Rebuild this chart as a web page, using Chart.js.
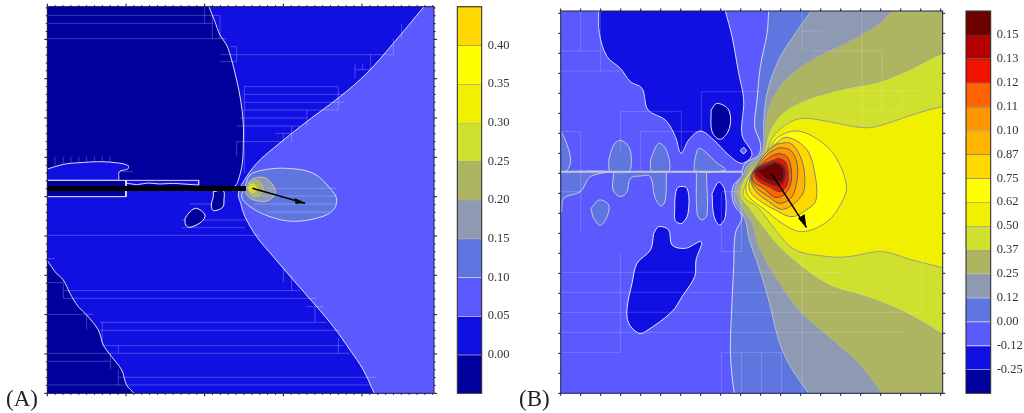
<!DOCTYPE html>
<html>
<head>
<meta charset="utf-8">
<script src="https://cdn.jsdelivr.net/npm/chart.js@4"></script>
<style>
html,body{margin:0;padding:0;background:#fff;overflow:hidden;width:1024px;height:413px}
canvas{position:absolute;display:block;filter:blur(0.35px)}
.tag{position:absolute;font-family:"Liberation Serif",serif;font-size:23px;line-height:26px;color:#222}
</style>
</head>
<body>
<canvas id="mapA" style="left:37px;top:0" width="408" height="405"></canvas>
<canvas id="barA" style="left:450px;top:0" width="74" height="405"></canvas>
<canvas id="mapB" style="left:550px;top:0" width="404" height="405"></canvas>
<canvas id="barB" style="left:958px;top:0" width="66" height="405"></canvas>
<div class="tag" style="left:6px;top:386px">(A)</div>
<div class="tag" style="left:519px;top:386px">(B)</div>
<script>
// ---- colour scale of panel A (band edges and tick values)
const edgesA = [-0.05,0,0.05,0.10,0.15,0.20,0.25,0.30,0.35,0.40,0.45];
const ticksA = [0,0.05,0.10,0.15,0.20,0.25,0.30,0.35,0.40];
// ---- colour scale of panel B (labels exactly as printed)
const labelsB = ["-0.25","-0.12","0.00","0.12","0.25","0.37","0.50","0.62","0.75","0.87","0.10","0.11","0.12","0.13","0.15"];

// ---- Panel A contours, grid units, origin bottom-left
const aNavyTop = [[478,1180],[485,1160],[503,1115],[518,1075],[538,1045],[553,1000],[568,940],[580,880],[588,810],[588,750],[585,690],[573,640],[563,622],[545,620],[300,620],[10,620],[-20,620],[-25,700],[-25,1100],[-20,1180]];
const aPatch = [[-20,670],[0,673],[48,687],[98,692],[158,695],[213,691],[243,683],[241,673],[216,665],[214,641],[205,639],[20,639],[-20,639]];
const aStrip = [[236,639],[454,639],[454,625],[378,630],[338,628],[303,631],[268,626],[238,630],[236,639]];
const aBox = [[-20,639],[236,639],[236,590],[-20,590]];
const aIsle1 = [[498,605],[528,608],[530,580],[526,558],[498,548],[492,565],[498,590],[498,605]];
const aIsle2 = [[413,525],[428,545],[448,555],[473,535],[463,515],[428,498],[415,505],[413,525]];
const aNavyLow = [[-20,420],[0,398],[23,365],[48,340],[68,300],[93,260],[118,235],[153,190],[168,145],[193,110],[223,70],[238,25],[260,0],[270,-15],[-20,-15]];
const aL10 = [[1147,1180],[1130,1160],[1038,1050],[958,960],[878,890],[778,815],[678,735],[628,690],[588,635],[573,600],[580,570],[593,530],[628,470],[678,410],[738,340],[808,260],[858,200],[908,130],[948,70],[981,0],[990,-15],[1180,-15],[1180,1180]];
const aL15 = [[593,620],[608,655],[648,670],[718,675],[798,660],[848,615],[868,583],[858,550],[818,528],[738,516],[668,530],[608,560],[583,590],[593,620]];
const aL20 = [[598,620],[613,642],[648,648],[673,630],[684,605],[673,585],[648,575],[613,583],[596,600],[598,620]];
const aL25 = [[603,615],[610,633],[628,639],[643,628],[648,608],[628,590],[610,595],[603,615]];
const aL30 = [[600,615],[615,630],[630,615],[615,600],[600,615]];
const aL35 = [[606,615],[615,624],[624,615],[615,606],[606,615]];
const aL40 = [[610,615],[615,620],[620,615],[615,610],[610,615]];
const aL45 = [[613,615],[615,617],[617,615],[615,613],[613,615]];
const aCrack = [[-20,622],[596,622],[596,607],[-20,607]];
const aArrow = [[615,615],[773,570]];
const aHead = [[773,570],[743,584],[746,569]];
// faint refinement mesh of A: x1,y1,x2,y2
const aMesh = [
[0,1134,518,1134],[0,1110,498,1110],[0,1064,538,1064],[518,1016,1038,1016],[518,995,568,995],[548,1040,568,1040],
[923,971,970,971],[591,920,873,920],[591,897,890,897],[591,873,893,873],[591,850,873,850],[578,826,778,826],
[568,802,758,802],[683,780,733,780],[568,755,708,755],[0,663,95,663],[218,665,258,665],[0,474,638,474],
[403,497,593,497],[403,520,600,520],[427,568,520,568],[658,615,868,615],[620,592,868,592],[620,568,868,568],[660,544,848,544],
[0,404,23,404],[0,332,48,332],[48,308,758,308],[48,285,808,285],[778,260,828,260],[0,237,138,237],[158,213,838,213],
[158,189,878,189],[168,143,888,143],[0,120,908,120],[0,96,188,96],[213,48,988,48],[0,25,968,25],
[472,1110,472,1160],[495,1064,495,1134],[518,1064,518,1134],[568,995,568,1040],[591,660,591,920],[568,710,568,755],
[708,755,708,780],[733,755,733,802],[779,802,779,850],[873,850,873,920],[923,945,923,990],[946,971,946,990],
[970,971,970,1016],[1038,1016,1038,1064],[1063,1064,1063,1110],[48,285,48,332],[118,190,118,237],[165,143,165,213],
[213,120,213,143],[213,25,213,72],[190,72,190,120],[708,332,708,380],[733,308,733,355],[803,213,803,260],[873,120,873,165],
[23,663,23,710],[48,663,48,710],[71,663,71,710],[95,663,95,710],[118,663,118,710],[142,663,142,710],[165,663,165,710],[188,663,188,710]
];

// ---- Panel B contours
const bL0 = [[626,1170],[624,1147],[619,1080],[599,980],[589,880],[582,800],[599,750],[594,715],[554,690],[544,665],[544,650],[519,625],[514,590],[524,560],[544,530],[524,480],[519,380],[512,230],[509,130],[514,50],[521,0],[524,-20],[1170,-20],[1170,1170]];
const bL1 = [[765,1170],[751,1147],[704,1080],[654,1000],[619,900],[609,810],[609,750],[599,715],[559,683],[549,660],[534,640],[522,610],[522,580],[539,550],[554,520],[566,460],[594,380],[624,280],[654,160],[684,90],[744,0],[765,-20],[1170,-20],[1170,1170]];
const bL2 = [[1018,1170],[994,1147],[944,1100],[854,1050],[754,1000],[674,940],[629,870],[614,800],[612,740],[594,700],[569,685],[554,650],[529,610],[534,580],[554,540],[574,510],[594,440],[644,350],[714,250],[804,170],[894,90],[964,0],[980,-20],[1170,-20],[1170,1170]];
const bL3 = [[1170,1010],[1146,1020],[1054,975],[954,935],[854,915],[734,880],[664,840],[624,780],[609,720],[579,680],[544,630],[539,590],[564,555],[604,500],[654,440],[734,370],[814,320],[914,290],[994,260],[1074,220],[1146,177],[1170,165]];
const bL4 = [[1170,853],[1146,860],[1054,835],[954,802],[904,797],[804,815],[724,825],[674,805],[634,765],[614,715],[584,675],[554,625],[549,590],[594,555],[644,490],[704,430],[804,410],[864,410],[964,425],[1054,400],[1146,377],[1170,370]];
const bL5 = [[629,740],[654,770],[709,787],[774,760],[824,710],[857,625],[844,575],[799,515],[724,485],[664,510],[614,550],[564,590],[556,625],[576,665],[604,705],[629,740]];
const bL6 = [[639,745],[679,768],[739,730],[764,650],[766,580],[744,555],[694,530],[644,550],[594,580],[566,610],[570,650],[599,700],[639,745]];
const bL7 = [[649,748],[689,750],[719,710],[732,650],[724,595],[668,552],[624,575],[582,610],[570,650],[589,685],[619,725],[649,748]];
const bL8 = [[654,737],[689,730],[709,690],[709,640],[694,590],[658,570],[624,590],[584,620],[572,650],[592,683],[624,720],[654,737]];
const bL9 = [[654,720],[679,710],[692,670],[689,625],[669,595],[643,588],[609,615],[579,635],[576,660],[599,685],[629,710],[654,720]];
const bL10 = [[654,705],[674,695],[682,665],[679,625],[658,605],[629,618],[589,640],[581,665],[604,685],[654,705]];
const bL11 = [[644,695],[666,685],[674,665],[669,635],[653,622],[624,630],[589,650],[584,670],[609,683],[644,695]];
const bL12 = [[589,670],[614,677],[644,690],[666,675],[666,640],[644,635],[614,645],[589,670]];
const bBlueTop = [[113,1170],[114,1147],[116,1080],[139,1010],[179,975],[209,935],[244,915],[262,850],[314,820],[344,770],[361,720],[384,760],[419,787],[459,760],[504,715],[544,690],[574,718],[544,775],[549,880],[534,960],[514,1070],[494,1147],[488,1170]];
const bNavy = [[451,850],[469,870],[504,850],[506,795],[479,762],[454,785],[451,850]];
const bRing = [[539,728],[548,737],[557,728],[548,719],[539,728]];
const bEdgeUp = [[-20,785],[0,785],[24,730],[29,690],[14,665],[-20,665]];
const bEdgeDown = [[-20,535],[0,540],[9,585],[59,605],[89,650],[149,665],[-20,665]];
const bOval1 = [[144,700],[159,745],[179,759],[204,740],[212,700],[204,665],[149,665],[144,700]];
const bOval2 = [[269,700],[294,750],[319,725],[324,665],[274,665],[269,700]];
const bOval3 = [[402,700],[414,735],[439,720],[464,695],[494,670],[404,667],[402,700]];
const bFingers = [[159,660],[157,610],[179,590],[199,605],[209,645],[239,652],[269,650],[282,590],[301,562],[314,580],[317,662]];
const bFinger2 = [[407,660],[409,540],[422,520],[439,535],[437,662]];
const bDrop = [[91,555],[116,580],[144,565],[139,530],[119,504],[99,525],[91,555]];
const bIsle1 = [[341,530],[349,615],[379,615],[382,540],[364,510],[346,515],[341,530]];
const bIsle2 = [[454,600],[474,633],[492,610],[494,530],[476,505],[459,535],[454,600]];
const bIsle3 = [[279,480],[294,500],[324,490],[334,445],[374,435],[422,455],[406,400],[402,350],[364,290],[334,245],[254,185],[234,180],[204,210],[199,255],[214,330],[229,390],[269,430],[279,480]];
const bCrack = [[0,665],[544,665]];
const bArrow = [[632,660],[737,498]];
const bHead = [[737,498],[714,525],[732,536]];
const bMesh = [
[0,1027,119,1027],[0,967,179,967],[0,785,60,785],[239,785,424,785],[179,845,362,845],[422,905,600,905],[0,605,60,605],[482,605,542,605],
[482,425,542,425],[0,363,844,363],[0,303,844,303],[0,243,1084,243],[0,183,1024,183],[0,123,180,123],[482,123,662,123],[724,1087,784,1087],
[754,1027,964,1027],[854,907,1084,907],[904,850,1024,850],
[60,485,60,785],[60,1027,60,1147],[119,967,119,1147],[179,725,179,845],[179,123,179,420],[239,665,239,785],[362,720,362,845],[422,785,422,905],
[482,0,482,123],[482,425,482,605],[542,0,542,123],[542,425,542,605],[602,0,602,123],[662,0,662,123],[724,0,724,420],[724,1027,724,1147],
[904,800,904,1147],[964,850,964,1027],[1024,850,1024,907],[1084,243,1084,420]
];

const NAVY='#00009c',BLUE='#1010e2',PURP='#5a5aff',SLATE='#5f76e0',GREY='#8e9ab2',TAN='#aeb562',LIME='#d0e02e',
      OLIVE='#f0f000',YEL='#ffff00',GOLD='#ffd800',AMB='#ffb400',ORG='#ff9600',DORG='#ff6400',RED='#f01400',CRIM='#b40000',MAR='#6e0000';
const bandsA=[NAVY,BLUE,PURP,SLATE,GREY,TAN,LIME,OLIVE,YEL,GOLD];
const bandsB=[NAVY,BLUE,PURP,SLATE,GREY,TAN,LIME,OLIVE,YEL,GOLD,AMB,ORG,DORG,RED,CRIM,MAR];
const edgeA=['#ffffff','#d8d8f0','#d8d8f0','#a8a8b8','#a0a0a0','#a0a0a0','#a0a0a0','#a0a0a0','#a09060','#a09060'];
const edgeB=['#d0d0e8','#d8d8f0','#e8e8ff','#b8b8c8','#a8a8a8','#a0a0a0','#a0a0a0','#a0a0a0','#909090','#808080','#707070','#505050','#505050','#404040','#404040','#404040'];

const pts=a=>a.map(p=>({x:p[0],y:p[1]}));
function area(data,fill,line,tension,width){
  return {data:pts(data),showLine:true,pointRadius:0,fill:fill?'shape':false,backgroundColor:fill||'transparent',
          borderColor:line,borderWidth:width===undefined?1:width,tension:tension===undefined?0.35:tension};
}
function mesh(list,color){
  const d=[];
  list.forEach(s=>{d.push([s[0],s[1]],[s[2],s[3]],[NaN,NaN]);});
  return {data:pts(d),showLine:true,pointRadius:0,fill:false,borderColor:color,borderWidth:1,tension:0,spanGaps:false};
}
const W='#dcdcf4';
const frameTicks={
  id:'frameTicks',
  afterDraw(c,_,o){
    const {ctx,chartArea:a,scales:s}=c;
    ctx.save();
    if(o.map){
      ctx.strokeStyle='#111';ctx.lineWidth=1;
      const put=(val,axis,len)=>{
        if(axis==='x'){const p=s.x.getPixelForValue(val);
          ctx.moveTo(p,a.bottom);ctx.lineTo(p,a.bottom+len);ctx.moveTo(p,a.top);ctx.lineTo(p,a.top-len);}
        else{const p=s.y.getPixelForValue(val);
          ctx.moveTo(a.left,p);ctx.lineTo(a.left-len,p);ctx.moveTo(a.right,p);ctx.lineTo(a.right+len,p);}
      };
      ctx.beginPath();
      for(let i=0;i*o.minor<=o.maxX;i++)put(i*o.minor,'x',i%o.everyX===0?o.long:o.short);
      for(let i=0;i*o.minor<=o.maxY;i++)put(i*o.minor,'y',i%o.everyY===0?o.long:o.short);
      ctx.stroke();
    }
    ctx.strokeStyle=o.frame;ctx.lineWidth=o.frameWidth;
    ctx.strokeRect(a.left,a.top,a.right-a.left,a.bottom-a.top);
    ctx.restore();
  }
};
function mapChart(id,sets,maxX,maxY,pad,tick){
  sets.forEach((d,i)=>{d.order=sets.length-i;});
  new Chart(document.getElementById(id),{
    type:'scatter',
    data:{datasets:sets},
    plugins:[frameTicks],
    options:{responsive:false,animation:false,devicePixelRatio:1,layout:{padding:pad,autoPadding:false},
      plugins:{legend:{display:false},tooltip:{enabled:false},frameTicks:tick},
      scales:{x:{type:'linear',min:0,max:maxX,display:false},y:{type:'linear',min:0,max:maxY,display:false}}}
  });
}
function barChart(id,sets,min,max,values,fmt,pad,gap){
  sets.forEach((d,i)=>{d.order=sets.length-i;});
  new Chart(document.getElementById(id),{
    type:'bar',
    data:{labels:['scale'],datasets:sets},
    plugins:[frameTicks],
    options:{responsive:false,animation:false,devicePixelRatio:1,layout:{padding:pad,autoPadding:false},
      plugins:{legend:{display:false},tooltip:{enabled:false},frameTicks:{map:false,frame:'#222',frameWidth:1}},
      scales:{
        x:{display:false,stacked:true},
        y:{position:'right',min,max,stacked:false,grid:{display:false,drawTicks:false},border:{display:false},
           afterBuildTicks:s=>{s.ticks=values.map(v=>({value:v}));},
           afterFit:s=>{s.width=gap;s.paddingTop=0;s.paddingBottom=0;},
           ticks:{autoSkip:false,padding:6,color:'#333',font:{family:'Liberation Serif',size:12.5},callback:fmt}}
      }}
  });
}

// ---- Panel A
mapChart('mapA',[
  area([[-20,-20],[1180,-20],[1180,1180],[-20,1180]],BLUE,BLUE,0,0),
  area(aNavyTop,NAVY,W),
  area(aNavyLow,NAVY,W),
  area(aL10,PURP,'#dcdcf4'),
  area(aL15,SLATE,'#d8d8e8'),
  area(aL20,GREY,'#c0c4b8'),
  area(aL25,TAN,'#b8bc90'),
  area(aL30,LIME,'#c8cc60'),
  area(aL35,OLIVE,'#d0d040'),
  area(aL40,YEL,'#e8e800'),
  area(aL45,GOLD,GOLD),
  mesh(aMesh,'rgba(255,255,255,0.24)'),
  area(aPatch,BLUE,W),
  area(aStrip,BLUE,W,0),
  area(aBox,NAVY,'#f0f0ff',0),
  area(aIsle1,NAVY,'#f0f0ff'),
  area(aIsle2,NAVY,'#f0f0ff'),
  area(aCrack,'#000','#000',0,0),
  area(aArrow,null,'#000',0,1.5),
  area(aHead,'#000','#000',0,1)
],1160,1160,{left:10.3,top:6.7,right:11,bottom:11.7},
 {map:true,maxX:1160,maxY:1160,minor:23.6,everyX:10,everyY:5,long:3,short:1.5,frame:'#1a1a50',frameWidth:1});

// ---- Panel A colour bar
barChart('barA',bandsA.map((c,i)=>({data:[[edgesA[i],edgesA[i+1]]],backgroundColor:c,borderColor:edgeA[i],
    borderWidth:{top:1,right:0,bottom:0,left:0},borderSkipped:false,barPercentage:1,categoryPercentage:1})),
  -0.05,0.45,ticksA,v=>v.toFixed(2),{left:7.3,top:6.7,bottom:11.7,right:0},42.3);

// ---- Panel B
mapChart('mapB',[
  area([[-20,-20],[1170,-20],[1170,1170],[-20,1170]],PURP,PURP,0,0),
  area(bL0,SLATE,'#d8d8ec'),
  area(bL1,GREY,'#b8bcc8'),
  area(bL2,TAN,'#a8a8b0'),
  area(bL3,LIME,'#a0a8a0'),
  area(bL4,OLIVE,'#9c9c98'),
  area(bL5,YEL,'#909098'),
  area(bL6,GOLD,'#808088'),
  area(bL7,AMB,'#707078'),
  area(bL8,ORG,'#606068'),
  area(bL9,DORG,'#505058'),
  area(bL10,RED,'#484850'),
  area(bL11,CRIM,'#404048'),
  area(bL12,MAR,'#403038'),
  area(bBlueTop,BLUE,'#dcdcf4'),
  area(bNavy,NAVY,'#e8e8ff'),
  area(bRing,PURP,'#ecf0ff'),
  area(bEdgeUp,SLATE,'#c8c8d8'),
  area(bEdgeDown,SLATE,'#c8c8d8'),
  area(bOval1,SLATE,'#c8c8d8'),
  area(bOval2,SLATE,'#c8c8d8'),
  area(bOval3,SLATE,'#c8c8d8'),
  area(bFingers,SLATE,'#c8c8d8'),
  area(bFinger2,SLATE,'#c8c8d8'),
  area(bDrop,SLATE,'#c8c8d8'),
  area(bIsle1,BLUE,'#e8e8ff'),
  area(bIsle2,BLUE,'#e8e8ff'),
  area(bIsle3,BLUE,'#e8e8ff'),
  mesh(bMesh,'rgba(255,255,255,0.18)'),
  area(bCrack,null,'#c4c8dc',0,2),
  area(bArrow,null,'#000',0,1.5),
  area(bHead,'#000','#000',0,1)
],1146,1147,{left:10.7,top:11,right:11.3,bottom:11.7},
 {map:true,maxX:1146,maxY:1147,minor:60,everyX:1,everyY:1,long:2.5,short:2.5,frame:'#222244',frameWidth:1});

// ---- Panel B colour bar
barChart('barB',bandsB.map((c,i)=>({data:[[i,i+1]],backgroundColor:c,borderColor:edgeB[i],
    borderWidth:{top:1,right:0,bottom:0,left:0},borderSkipped:false,barPercentage:1,categoryPercentage:1})),
  0,16,labelsB.map((_,i)=>i+1),v=>labelsB[v-1],{left:8,top:11,bottom:11.7,right:0},33.3);
</script>
</body>
</html>
